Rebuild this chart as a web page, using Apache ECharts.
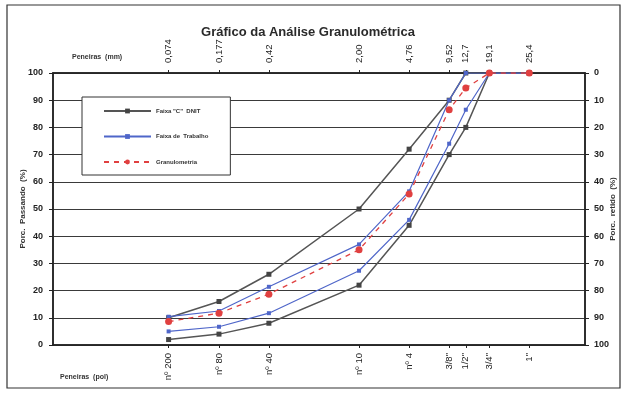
<!DOCTYPE html>
<html>
<head>
<meta charset="utf-8">
<script src="https://cdn.jsdelivr.net/npm/echarts@6/dist/echarts.min.js"></script>
<style>
html,body{margin:0;padding:0;background:#fff;}
#chart{width:626px;height:393px;}
</style>
</head>
<body>
<div id="chart"></div>
<script>
// Sieve openings (mm) as placed on the log axis (the last "25,4" tick sits at ~38 mm in the reference)
const sieveMm = [0.074, 0.177, 0.42, 2.0, 4.76, 9.52, 12.7, 19.1, 38.1];
const mmLabels = ['0,074', '0,177', '0,42', '2,00', '4,76', '9,52', '12,7', '19,1', '25,4'];
const polLabels = ['nº 200', 'nº 80', 'nº 40', 'nº 10', 'nº 4', '3/8"', '1/2"', '3/4"', '1"'];
const yTicks = [0, 10, 20, 30, 40, 50, 60, 70, 80, 90, 100];

const faixaCMin = [2, 4, 8, 22, 44, 70, 80, 100, 100];
const faixaCMax = [10, 16, 26, 50, 72, 90, 100, 100, 100];
const trabalhoMin = [5, 6.7, 11.7, 27.3, 46, 74, 86.5, 100, 100];
const trabalhoMax = [10.4, 12.5, 21.4, 37, 56.5, 90, 100, 100, 100];
const granulometria = [8.6, 11.7, 18.7, 35, 55.5, 86.5, 94.5, 100, 100];

const seriesNames = ['Faixa "C"  DNIT', 'Faixa de  Trabalho', 'Granulometria'];
const titleText = 'Gráfico da Análise Granulométrica';

const pairs = arr => sieveMm.map((x, i) => [x, arr[i]]);
function nearestIdx(v) {
  let best = 0, bd = Infinity;
  sieveMm.forEach((s, i) => { const d = Math.abs(Math.log(v) - Math.log(s)); if (d < bd) { bd = d; best = i; } });
  return best;
}
const FONT = 'Liberation Sans, Arial, sans-serif';
const lblStyle = { fontFamily: FONT, fontSize: 8, fontWeight: 'bold', color: '#222' };
const xLblStyle = { fontFamily: FONT, fontSize: 9.5, fontWeight: 'normal', color: '#222' };

const chart = echarts.init(document.getElementById('chart'), null, { renderer: 'canvas' });

const grayLine = { color: '#555', width: 1.5 };
const blueLine = { color: '#4f66c9', width: 1.2 };

chart.setOption({
  animation: false,
  backgroundColor: '#fff',
  textStyle: { fontFamily: FONT },
  title: [{
    text: titleText, left: 303, top: 21, textAlign: 'center',
    textStyle: { fontFamily: FONT, fontSize: 13, fontWeight: 'bold', color: '#2a2a2a' }
  }],
  graphic: [
    { type: 'rect', shape: { x: 7, y: 5, width: 613, height: 383 }, style: { fill: 'none', stroke: '#333', lineWidth: 1.2 }, silent: true, z: -1 },
    { type: 'text', left: 72, top: 54, style: { text: 'Peneiras  (mm)', font: 'bold 7px ' + FONT, fill: '#333' } },
    { type: 'text', left: 60, top: 374, style: { text: 'Peneiras  (pol)', font: 'bold 7px ' + FONT, fill: '#333' } }
  ],
  legend: {
    data: seriesNames,
    orient: 'vertical',
    left: 82, top: 97,
    backgroundColor: '#fff',
    borderColor: '#333', borderWidth: 1,
    padding: [11, 22, 10, 21],
    itemWidth: 47, itemHeight: 6, itemGap: 19.5,
    textStyle: { fontFamily: FONT, fontSize: 6, fontWeight: 'bold', color: '#333' },
    z: 10
  },
  grid: { left: 53, right: 41, top: 73, bottom: 48, outerBoundsMode: 'none', containLabel: false, show: true, borderColor: '#222', borderWidth: 1.5, backgroundColor: '#fff' },
  xAxis: [{
    type: 'log', logBase: 10, min: 0.01, max: 100, position: 'bottom',
    axisLine: { show: true, lineStyle: { color: '#222', width: 1.5 } },
    axisTick: { show: true, customValues: sieveMm, length: 3, inside: false, lineStyle: { color: '#222' } },
    axisLabel: { customValues: sieveMm, rotate: 90, margin: 8, formatter: v => polLabels[nearestIdx(v)], ...xLblStyle },
    splitLine: { show: false }, minorTick: { show: false }
  }, {
    type: 'log', logBase: 10, min: 0.01, max: 100, position: 'top',
    axisLine: { show: true, lineStyle: { color: '#222', width: 1.5 } },
    axisTick: { show: true, customValues: sieveMm, length: 3, lineStyle: { color: '#222' } },
    axisLabel: { customValues: sieveMm, rotate: 90, margin: 10, formatter: v => mmLabels[nearestIdx(v)], ...xLblStyle },
    splitLine: { show: false }
  }],
  yAxis: [{
    type: 'value', min: 0, max: 100, interval: 10, position: 'left',
    name: 'Porc.  Passando  (%)', nameLocation: 'middle', nameGap: 26, nameRotate: 90, nameMoveOverlap: false,
    nameTextStyle: { fontFamily: FONT, fontSize: 8, fontWeight: 'bold', color: '#333' },
    axisLine: { show: true, lineStyle: { color: '#222', width: 1.5 } },
    axisTick: { show: true, length: 4, lineStyle: { color: '#222' } },
    axisLabel: { margin: 10, ...lblStyle, fontSize: 9 },
    splitLine: { show: true, lineStyle: { color: '#3a3a3a', width: 1.2 } }
  }, {
    type: 'value', min: 0, max: 100, interval: 10, position: 'right', inverse: true,
    name: 'Porc.  retido  (%)', nameLocation: 'middle', nameGap: 24, nameRotate: 90, nameMoveOverlap: false,
    nameTextStyle: { fontFamily: FONT, fontSize: 8, fontWeight: 'bold', color: '#333' },
    axisLine: { show: true, lineStyle: { color: '#222', width: 1.5 } },
    axisTick: { show: true, length: 4, lineStyle: { color: '#222' } },
    axisLabel: { margin: 9, ...lblStyle, fontSize: 9 },
    splitLine: { show: false }
  }],
  series: [
    { name: seriesNames[0], type: 'line', data: pairs(faixaCMin), lineStyle: grayLine, itemStyle: { color: '#444' }, symbol: 'rect', symbolSize: 5, z: 3 },
    { name: seriesNames[0], type: 'line', data: pairs(faixaCMax), lineStyle: grayLine, itemStyle: { color: '#444' }, symbol: 'rect', symbolSize: 5, z: 3 },
    { name: seriesNames[1], type: 'line', data: pairs(trabalhoMin), lineStyle: blueLine, itemStyle: { color: '#4f66c9' }, symbol: 'rect', symbolSize: 4, z: 4 },
    { name: seriesNames[1], type: 'line', data: pairs(trabalhoMax), lineStyle: blueLine, itemStyle: { color: '#4f66c9' }, symbol: 'rect', symbolSize: 4, z: 4 },
    { name: seriesNames[2], type: 'line', data: pairs(granulometria), lineStyle: { color: '#e04040', width: 1.3, type: [5, 5] }, itemStyle: { color: '#e04040' }, symbol: 'circle', symbolSize: 7, z: 5 }
  ]
});
</script>
</body>
</html>
